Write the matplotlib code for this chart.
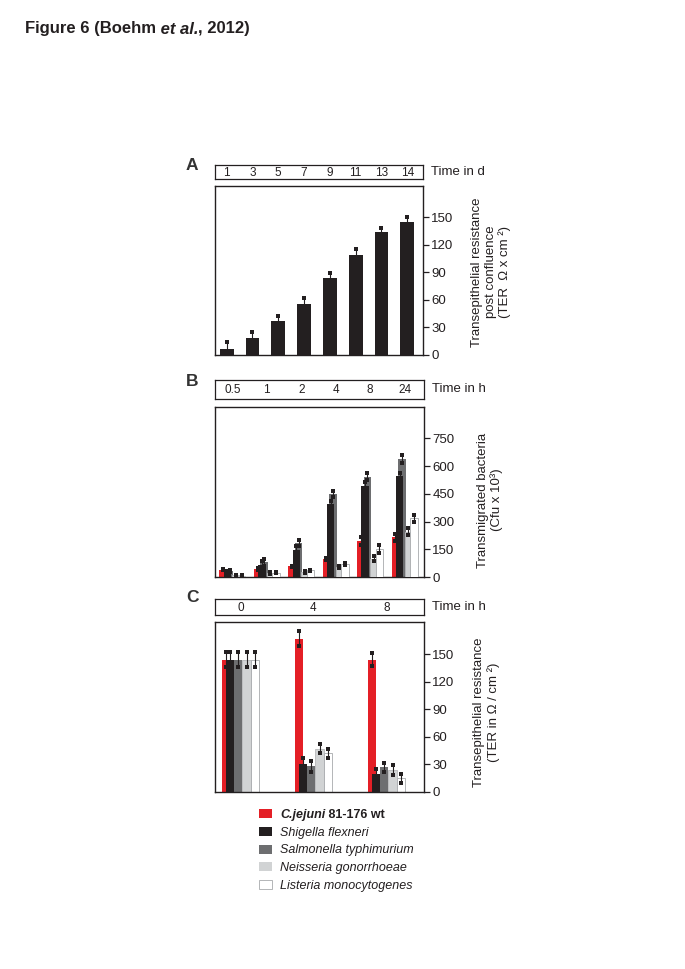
import matplotlib
matplotlib.use("Agg")
import matplotlib.pyplot as plt
import numpy as np
from matplotlib.patches import Rectangle

plt.rcParams["font.family"] = ["Liberation Sans", "DejaVu Sans"]

# ---- data -------------------------------------------------------------
days = ["1", "3", "5", "7", "9", "11", "13", "14"]
ter_post_confluence = [7, 19, 37, 56, 84, 109, 134, 145]
ter_post_confluence_err = [7, 6, 6, 6, 5, 6, 4, 5]

species = ["C.jejuni 81-176 wt", "Shigella flexneri", "Salmonella typhimurium",
           "Neisseria gonorrhoeae", "Listeria monocytogenes"]

hours_b = ["0.5", "1", "2", "4", "8", "24"]
cjejuni_b = [40, 44, 57, 98, 196, 214]
shigella_b = [27, 64, 148, 394, 495, 549]
salmonella_b = [32, 80, 184, 449, 543, 638]
neisseria_b = [9, 21, 27, 55, 98, 245]
listeria_b = [7, 23, 36, 71, 153, 317]
cjejuni_b_err = [4, 4, 4, 5, 22, 20]
shigella_b_err = [4, 22, 18, 18, 18, 14]
salmonella_b_err = [4, 20, 18, 15, 20, 20]
neisseria_b_err = [3, 4, 4, 4, 14, 20]
listeria_b_err = [3, 4, 4, 4, 22, 20]

hours_c = ["0", "4", "8"]
cjejuni_c = [144, 167, 144]
shigella_c = [144, 31, 20]
salmonella_c = [144, 28, 27]
neisseria_c = [144, 47, 24]
listeria_c = [144, 42, 15]
cjejuni_c_err = [8, 8, 7]
shigella_c_err = [8, 6, 5]
salmonella_c_err = [8, 6, 5]
neisseria_c_err = [8, 5, 5]
listeria_c_err = [8, 5, 5]

# ---- style ------------------------------------------------------------
colors = ["#e41f26", "#231f20", "#6d6e70", "#d1d3d4", "#ffffff"]
edges = ["none", "none", "none", "#b5b6b8", "#a7a9ac"]
ink = "#231f20"

W, H = 685, 969
fig = plt.figure(figsize=(W / 100, H / 100), dpi=100)


def fbox(x0, y0, x1, y1):
    return [x0 / W, 1 - y1 / H, (x1 - x0) / W, (y1 - y0) / H]


def style_main(ax, xlim, ylim, yticks):
    ax.set_xlim(*xlim)
    ax.set_ylim(*ylim)
    ax.set_xticks([])
    ax.set_yticks(yticks)
    ax.yaxis.tick_right()
    ax.tick_params(axis="y", direction="out", length=4, width=0.9,
                   labelsize=9.5, pad=2, colors=ink)
    for sp in ax.spines.values():
        sp.set_linewidth(1.0)
        sp.set_color(ink)


def header(ax, xlim, xs, labels, unit):
    ax.set_xlim(*xlim)
    ax.set_ylim(0, 1)
    ax.set_xticks([])
    ax.set_yticks([])
    for sp in ax.spines.values():
        sp.set_linewidth(0.9)
        sp.set_color(ink)
    for x, lab in zip(xs, labels):
        ax.text(x, 0.45, lab, ha="center", va="center", fontsize=8.5, color=ink)
    ax.text(1.038, 0.5, unit, transform=ax.transAxes, ha="left", va="center",
            fontsize=9.5, color=ink)


def draw_err(ax, x, y, e):
    eb = ax.errorbar(x, y, yerr=e, fmt="none", ecolor=ink, elinewidth=0.8,
                     capsize=2, zorder=6)
    for cap in eb.lines[1]:
        cap.set_marker("s")
        cap.set_markersize(2.6)
        cap.set_markeredgewidth(0)
        cap.set_markerfacecolor(ink)


def text_run(x, y, pieces, size):
    r = fig.canvas.get_renderer()
    for s, wt, st in pieces:
        t = fig.text(x, y, s, fontsize=size, fontweight=wt, fontstyle=st,
                     va="baseline", ha="left", color=ink)
        x += t.get_window_extent(r).width / W


# ---- panel A ----------------------------------------------------------
xa = np.arange(len(days))
xlim_a = (-0.453, 7.61)
ax_a = fig.add_axes(fbox(215, 186, 423, 355))
ax_a.bar(xa, ter_post_confluence, width=0.54, color=colors[1], zorder=2)
draw_err(ax_a, xa, ter_post_confluence, ter_post_confluence_err)
style_main(ax_a, xlim_a, (0, 184), np.arange(0, 151, 30))
header(fig.add_axes(fbox(215, 165, 423, 179)), xlim_a, xa, days, "Time in d")

# ---- panel B ----------------------------------------------------------
gb = np.arange(len(hours_b))
wb = 0.217
offs_b = np.array([0, 0.57, 0.87, 1.73, 2.47])
z_b = [2, 2.6, 2.4, 2.8, 3]
xlim_b = (-0.501, 5.56)
ax_b = fig.add_axes(fbox(215, 407, 424, 577))
series_b = [cjejuni_b, shigella_b, salmonella_b, neisseria_b, listeria_b]
errs_b = [cjejuni_b_err, shigella_b_err, salmonella_b_err, neisseria_b_err,
          listeria_b_err]
for k, (vals, errs) in enumerate(zip(series_b, errs_b)):
    left = gb - (offs_b[-1] + 1) * wb / 2 + offs_b[k] * wb
    ax_b.bar(left, vals, width=wb, align="edge", color=colors[k],
             edgecolor=edges[k], linewidth=0.6, zorder=z_b[k])
    draw_err(ax_b, left + wb / 2, vals, errs)
style_main(ax_b, xlim_b, (0, 920), np.arange(0, 751, 150))
header(fig.add_axes(fbox(215, 380, 424, 399)), xlim_b, gb, hours_b, "Time in h")

# ---- panel C ----------------------------------------------------------
gc = np.arange(len(hours_c))
wc = 0.114
offs_c = np.array([0, 0.5, 1.5, 2.5, 3.5])
xlim_c = (-0.348, 2.515)
ax_c = fig.add_axes(fbox(215, 622, 424, 792))
series_c = [cjejuni_c, shigella_c, salmonella_c, neisseria_c, listeria_c]
errs_c = [cjejuni_c_err, shigella_c_err, salmonella_c_err, neisseria_c_err,
          listeria_c_err]
for k, (vals, errs) in enumerate(zip(series_c, errs_c)):
    left = gc - (offs_c[-1] + 1) * wc / 2 + offs_c[k] * wc
    ax_c.bar(left, vals, width=wc, align="edge", color=colors[k],
             edgecolor=edges[k], linewidth=0.6, zorder=2 + 0.1 * k)
    draw_err(ax_c, left + wc / 2, vals, errs)
style_main(ax_c, xlim_c, (0, 185), np.arange(0, 151, 30))
header(fig.add_axes(fbox(215, 599, 424, 615)), xlim_c, gc, hours_c, "Time in h")

# ---- axis titles (right side) -----------------------------------------
fig.text(491 / W, 1 - 272 / H,
         "Transepithelial resistance\npost confluence\n(TER  \u03a9 x cm \u00b2)",
         rotation=90, ha="center", va="center", multialignment="center",
         fontsize=9.5, color=ink, linespacing=1.15)
fig.text(490 / W, 1 - 500 / H, "Transmigrated bacteria\n(Cfu x 10\u00b3)",
         rotation=90, ha="center", va="center", multialignment="center",
         fontsize=9.5, color=ink, linespacing=1.15)
fig.text(486.5 / W, 1 - 712 / H,
         "Transepithelial resistance\n(TER in \u03a9 / cm \u00b2)",
         rotation=90, ha="center", va="center", multialignment="center",
         fontsize=9.5, color=ink, linespacing=1.15)

# ---- panel letters ----------------------------------------------------
for letter, yc in zip("ABC", [165, 381, 598]):
    fig.text(186 / W, 1 - yc / H, letter, fontsize=12.5, fontweight="bold",
             ha="left", va="center", color="#333333")

# ---- title ------------------------------------------------------------
text_run(25 / W, 1 - 33.5 / H,
         [("Figure 6 (Boehm", "bold", "normal"),
          (" et al.", "bold", "italic"),
          (", 2012)", "bold", "normal")], 12)

# ---- legend -----------------------------------------------------------
row_top = [809, 826.7, 844.5, 862, 879.7]
for k, name in enumerate(species):
    top = row_top[k]
    fig.add_artist(Rectangle((258.5 / W, 1 - (top + 9) / H), 13 / W, 9 / H,
                             transform=fig.transFigure, facecolor=colors[k],
                             edgecolor=edges[k] if k == 4 else "none",
                             linewidth=0.6))
    if k == 0:
        genus, rest = name.split(" ", 1)
        pieces = [(genus, "bold", "italic"), (" " + rest, "bold", "normal")]
    else:
        pieces = [(name, "normal", "italic")]
    text_run(280 / W, 1 - (top + 9) / H, pieces, 9)

fig.savefig("out.png", dpi=100)
